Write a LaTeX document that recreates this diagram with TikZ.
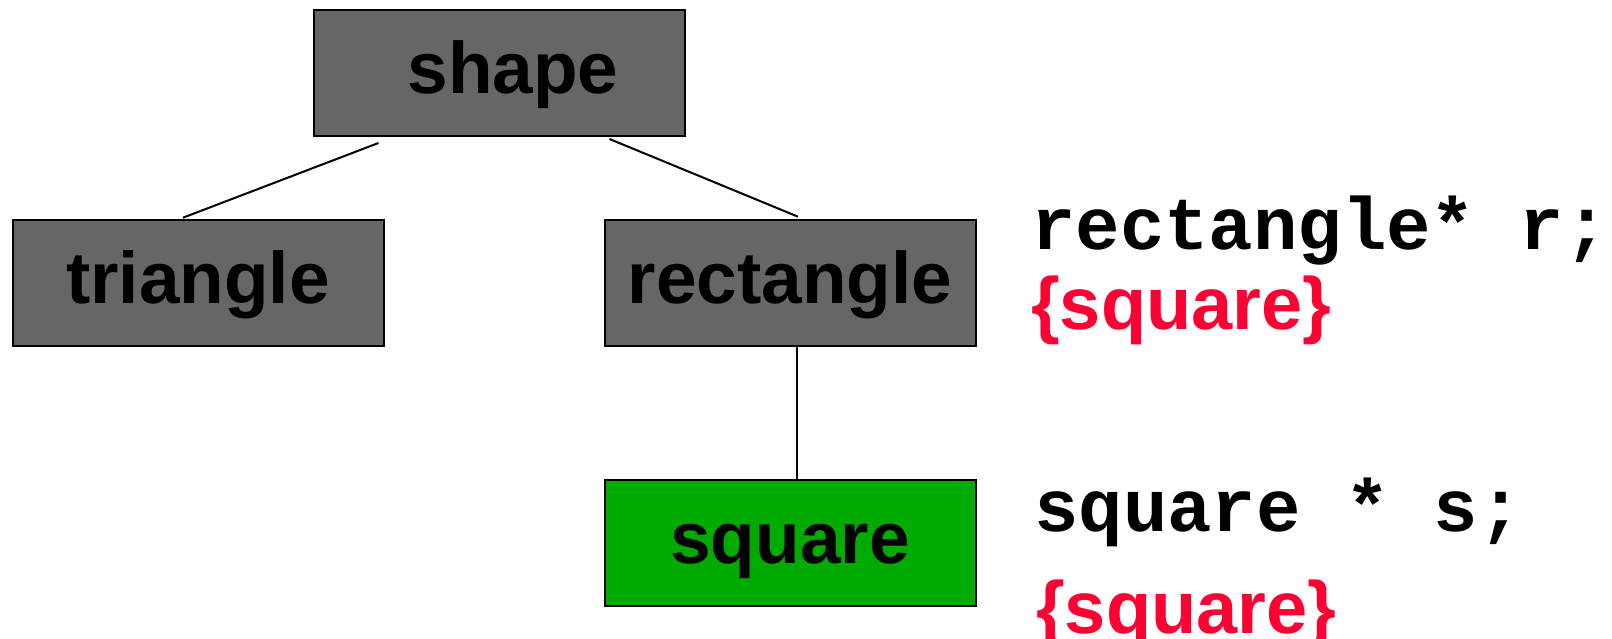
\documentclass[tikz,border=0pt]{standalone}
\usepackage{fontspec}
\setmainfont{Liberation Sans}
\newfontfamily\monof{Liberation Mono}
\usetikzlibrary{calc}
\definecolor{boxgray}{HTML}{666666}
\definecolor{boxgreen}{HTML}{00AA00}
\definecolor{codered}{HTML}{FF0033}
\tikzset{
  classbox/.style={draw=black, line width=2pt, fill=boxgray, minimum width=371pt, minimum height=126pt,
    inner sep=0pt, text height=50pt, text depth=8pt, font=\fontsize{73}{73}\selectfont\bfseries},
  link/.style={line width=2pt},
  codetxt/.style={anchor=base west, inner sep=0pt, font=\fontsize{74}{74}\selectfont\monof\bfseries},
  redtxt/.style={anchor=base west, inner sep=0pt, text=codered, font=\fontsize{74}{74}\selectfont\bfseries}
}
\begin{document}
\begin{tikzpicture}[x=1pt,y=-1pt]
\useasboundingbox (0,0) rectangle (1612,639);
\node[classbox] (shape) at (499,73) {\hspace*{28pt}shape};
\node[classbox] (triangle) at (198,282.7) {triangle};
\node[classbox] (rect) at (790,282.7) {rectangle};
\node[classbox, fill=boxgreen] (square) at (790,542.8) {square};
\coordinate (sl) at ($(shape.south west)+(66,6)$);
\coordinate (sr) at ($(shape.south west)+(297,2)$);
\coordinate (tt) at ($(triangle.north)+(-15,-1)$);
\coordinate (rt) at ($(rect.north)+(8,-2)$);
\coordinate (rb) at ($(rect.south)+(7,0)$);
\coordinate (qt) at ($(square.north)+(7,0)$);
\draw[link] (sl) -- (tt);
\draw[link] (sr) -- (rt);
\draw[link] (rb) -- (qt);
\node[codetxt] (c1) at (1031,250) {rectangle* r;};
\node[redtxt] (r1) at (1031,329) {\{square\}};
\node[codetxt] (c2) at (1034,531) {square * s;};
\node[redtxt] (r2) at (1036,633) {\{square\}};
\end{tikzpicture}
\end{document}
